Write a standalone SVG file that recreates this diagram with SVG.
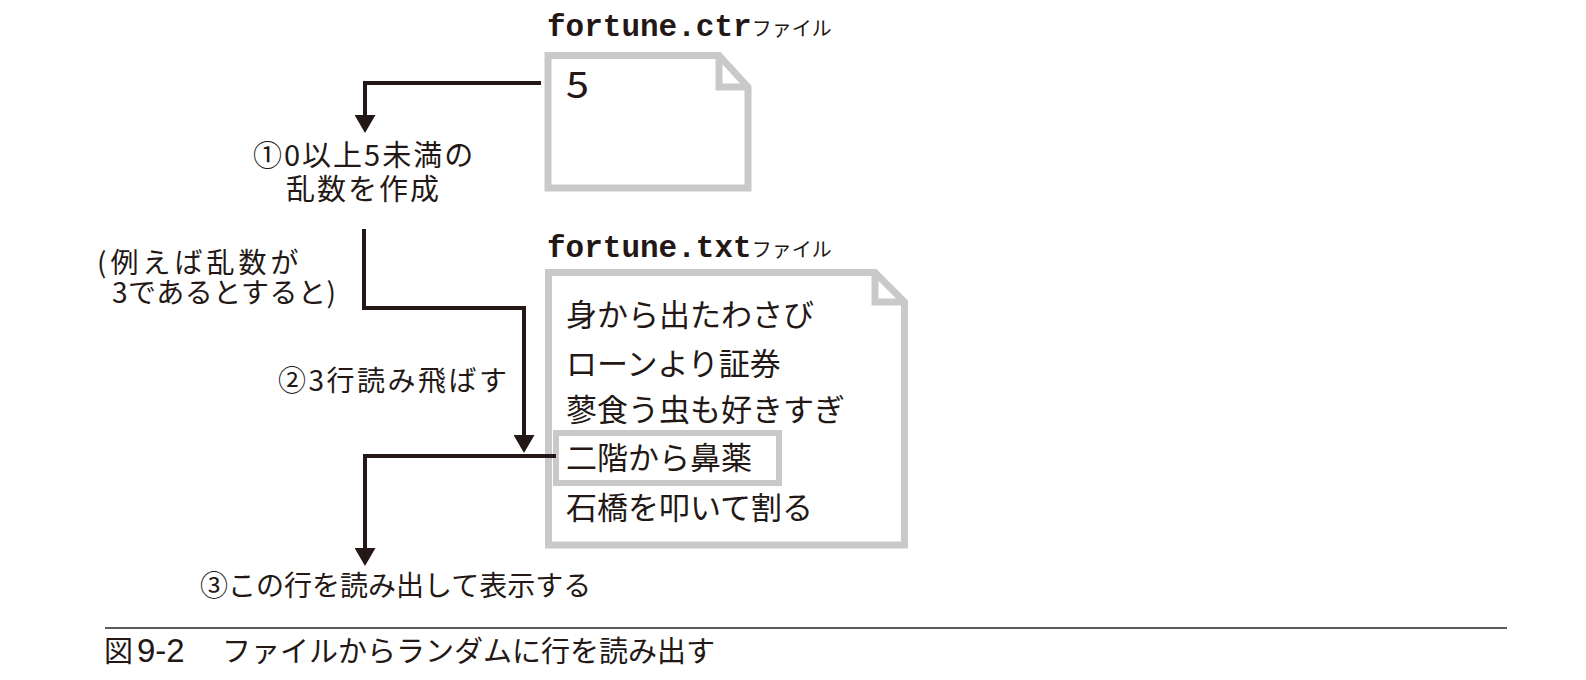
<svg xmlns="http://www.w3.org/2000/svg" width="1586" height="680" viewBox="0 0 1586 680">
  <style>
    .file { fill: #ffffff; stroke: #c9c9c9; stroke-width: 7; stroke-linejoin: miter; }
    .fold { fill: none; stroke: #c9c9c9; stroke-width: 7; stroke-linejoin: miter; }
    .hl { fill: none; stroke: #c9c9c9; stroke-width: 6; }
    .conn { fill: none; stroke: #231815; stroke-width: 4; stroke-linecap: butt; stroke-linejoin: miter; }
    .jp { font-family: "Noto Sans CJK JP", "Noto Sans", sans-serif; fill: #231815; }
    .lbl { font-size: 28px; }
    .content { font-size: 31px; }
    .mono { font-family: "Liberation Mono", "DejaVu Sans Mono", monospace; font-weight: bold; font-size: 31px; fill: #231815; }
    .small { font-family: "Noto Sans CJK JP", sans-serif; font-weight: normal; font-size: 20px; }
  </style>
  <defs>
    <marker id="arrow" markerUnits="userSpaceOnUse" viewBox="0 0 18 21" markerWidth="18" markerHeight="21" refX="0" refY="10.5" orient="auto">
      <path d="M0,0 L18,10.5 L0,21 Z" fill="#231815"/>
    </marker>
  </defs>

  <g id="ctr-file">
    <path class="file" d="M548,55.5 L719,55.5 L748,87 L748,188 L548,188 Z"/>
    <path class="fold" d="M719,55.5 L719,87 L748,87"/>
    <text class="mono" x="547" y="36">fortune.ctr<tspan class="small">ファイル</tspan></text>
    <text transform="translate(566,98) scale(1.12,1)" style="font-family:'Noto Sans CJK JP', 'Liberation Sans', sans-serif; font-size:37px; fill:#231815">5</text>
  </g>

  <g id="txt-file">
    <path class="file" d="M548.5,272.5 L875,272.5 L904.5,302 L904.5,545 L548.5,545 Z"/>
    <path class="fold" d="M875,272.5 L875,302 L904.5,302"/>
    <text class="mono" x="547" y="257">fortune.txt<tspan class="small">ファイル</tspan></text>
    <text class="jp content" x="566" y="326">身から出たわさび</text>
    <text class="jp content" x="566" y="375">ローンより証券</text>
    <text class="jp content" x="566" y="421">蓼食う虫も好きすぎ</text>
    <rect id="highlight" class="hl" x="556" y="433" width="223" height="50"/>
    <text class="jp content" x="566" y="469">二階から鼻薬</text>
    <text class="jp content" x="566" y="519">石橋を叩いて割る</text>
  </g>

  <g id="step1">
    <text class="jp" font-size="29" letter-spacing="2"><tspan x="253" y="166">①0以上5未満の</tspan><tspan x="286" y="200">乱数を作成</tspan></text>
  </g>

  <g id="example">
    <text class="jp lbl"><tspan x="97" y="273" letter-spacing="4">(例えば乱数が</tspan><tspan x="112" y="303" letter-spacing="0.5">3であるとすると)</tspan></text>
  </g>

  <g id="step2">
    <text class="jp lbl" x="278" y="391" letter-spacing="2.5">②3行読み飛ばす</text>
  </g>

  <g id="step3">
    <text class="jp lbl" x="200" y="596">③この行を読み出して表示する</text>
  </g>

  <g id="connectors">
    <path class="conn" d="M541,83 H365 V115" marker-end="url(#arrow)"/>
    <path class="conn" d="M364,229 V308 H524 V435" marker-end="url(#arrow)"/>
    <path class="conn" d="M556,456 H365 V548" marker-end="url(#arrow)"/>
  </g>

  <g id="caption">
    <line x1="105" y1="628" x2="1507" y2="628" stroke="#5a5a5a" stroke-width="2"/>
    <text class="jp" font-size="29" y="662"><tspan x="104">図</tspan><tspan x="137" style="font-family:'Liberation Sans', Arial, sans-serif; font-size:33px">9-2</tspan><tspan x="222">ファイルからランダムに行を読み出す</tspan></text>
  </g>
</svg>
